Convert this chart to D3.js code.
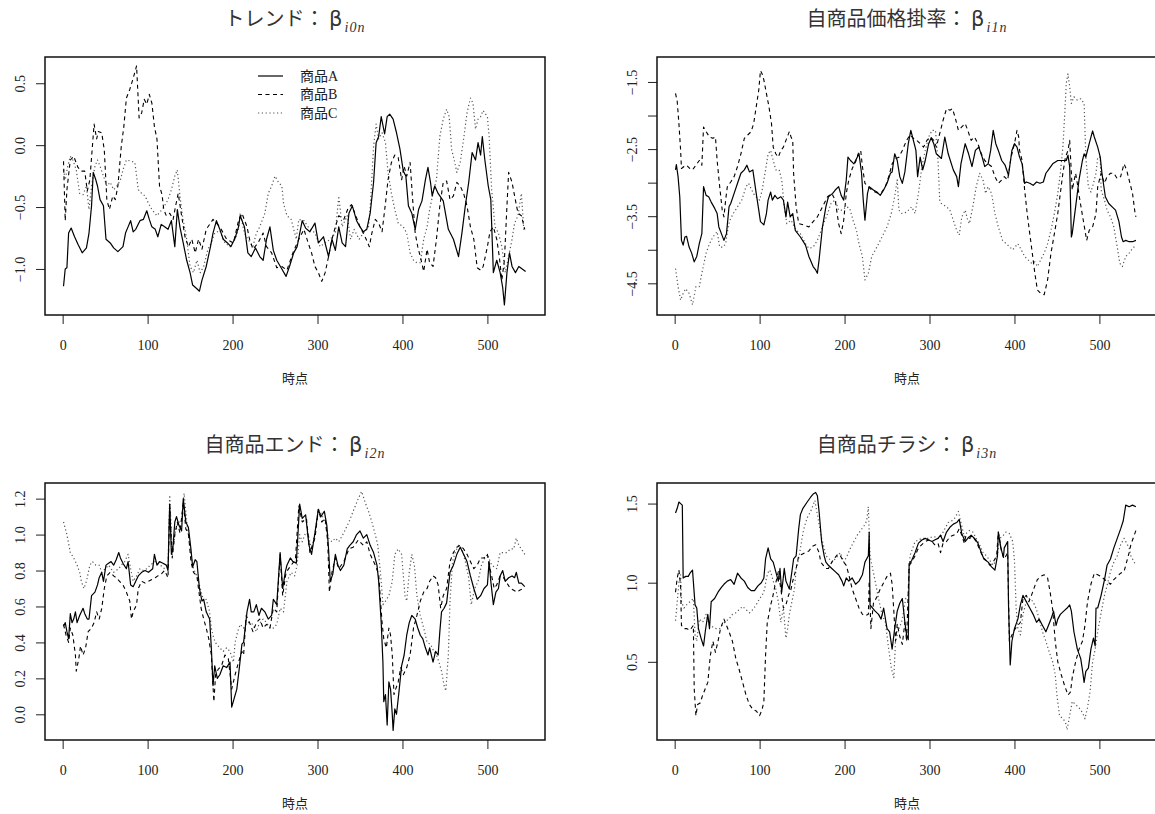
<!DOCTYPE html>
<html>
<head>
<meta charset="utf-8">
<script src="https://cdn.jsdelivr.net/npm/d3@7"></script>
<style>
  body { margin: 0; background: #fff; }
  .tick text { font-family: "Liberation Serif", serif; font-size: 14px; fill: #222; }
</style>
</head>
<body>
<svg id="chart" width="1155" height="814"></svg>
<script>
// series names and x ticks
const itemNames = ["商品A", "商品B", "商品C"];
const xTicks = [0, 100, 200, 300, 400, 500];

// トレンド β_i0n  ([時点, 値])
const trendA = [[1,-1.14],[3,-1.0],[5,-0.99],[7,-0.71],[10,-0.67],[14,-0.74],[18,-0.80],[23,-0.87],[28,-0.83],[31,-0.71],[34,-0.49],[36,-0.22],[39,-0.28],[41,-0.33],[44,-0.44],[48,-0.49],[51,-0.76],[56,-0.79],[60,-0.83],[65,-0.86],[71,-0.82],[74,-0.71],[77,-0.66],[80,-0.61],[83,-0.70],[86,-0.68],[91,-0.61],[95,-0.60],[99,-0.53],[102,-0.60],[105,-0.66],[109,-0.68],[112,-0.74],[116,-0.64],[120,-0.66],[124,-0.68],[128,-0.61],[132,-0.82],[135,-0.52],[138,-0.66],[141,-0.76],[146,-0.93],[150,-1.03],[153,-1.13],[158,-1.16],[161,-1.18],[164,-1.09],[169,-0.98],[174,-0.82],[177,-0.71],[181,-0.61],[185,-0.68],[189,-0.76],[194,-0.79],[198,-0.82],[203,-0.75],[207,-0.66],[209,-0.57],[214,-0.66],[218,-0.87],[222,-0.90],[227,-0.83],[232,-0.90],[236,-0.93],[240,-0.76],[244,-0.66],[248,-0.85],[252,-0.93],[258,-1.0],[263,-1.06],[267,-0.98],[272,-0.87],[276,-0.82],[282,-0.61],[286,-0.67],[291,-0.70],[297,-0.63],[301,-0.79],[307,-0.74],[313,-0.90],[317,-0.76],[321,-0.85],[325,-0.66],[329,-0.79],[333,-0.82],[337,-0.55],[341,-0.49],[346,-0.61],[350,-0.66],[354,-0.70],[358,-0.68],[362,-0.55],[366,-0.30],[369,0.02],[372,0.07],[375,0.23],[379,0.09],[382,0.23],[385,0.25],[389,0.21],[393,0.10],[397,-0.03],[401,-0.21],[404,-0.25],[407,-0.49],[411,-0.55],[415,-0.68],[419,-0.52],[423,-0.45],[427,-0.28],[430,-0.18],[433,-0.30],[435,-0.41],[438,-0.33],[442,-0.39],[448,-0.45],[454,-0.68],[460,-0.76],[466,-0.90],[470,-0.71],[474,-0.49],[478,-0.30],[482,-0.06],[486,-0.12],[489,0.02],[492,-0.08],[494,0.07],[497,-0.12],[501,-0.33],[504,-0.44],[507,-1.03],[511,-0.93],[515,-1.03],[518,-1.15],[520,-1.29],[523,-1.03],[526,-0.87],[529,-0.98],[533,-1.03],[537,-0.98],[541,-1.0],[545,-1.02]];
const trendB = [[1,-0.13],[3,-0.61],[5,-0.36],[9,-0.12],[13,-0.09],[18,-0.18],[22,-0.21],[26,-0.21],[29,-0.37],[32,-0.28],[35,-0.01],[37,0.17],[40,0.05],[42,0.11],[46,0.10],[49,-0.04],[52,-0.44],[55,-0.52],[59,-0.41],[62,-0.44],[65,-0.33],[69,-0.01],[72,0.15],[75,0.38],[79,0.45],[83,0.54],[87,0.64],[90,0.22],[93,0.26],[96,0.37],[99,0.33],[102,0.41],[105,0.34],[108,0.15],[111,0.05],[114,-0.33],[117,-0.40],[119,-0.52],[122,-0.57],[126,-0.55],[130,-0.60],[133,-0.49],[136,-0.39],[140,-0.57],[144,-0.74],[148,-0.82],[152,-0.76],[156,-0.87],[160,-0.76],[164,-0.84],[169,-0.68],[177,-0.60],[185,-0.66],[193,-0.76],[201,-0.79],[207,-0.61],[211,-0.55],[217,-0.66],[220,-0.76],[224,-0.84],[230,-0.79],[236,-0.71],[240,-0.82],[246,-0.87],[252,-0.99],[258,-0.98],[264,-1.01],[271,-0.87],[278,-0.76],[284,-0.68],[289,-0.79],[293,-0.87],[297,-0.98],[301,-1.03],[305,-1.10],[309,-1.03],[313,-0.90],[317,-0.76],[321,-0.66],[325,-0.57],[331,-0.60],[336,-0.51],[340,-0.48],[344,-0.55],[350,-0.66],[356,-0.74],[361,-0.82],[364,-0.71],[368,-0.60],[372,-0.63],[376,-0.70],[380,-0.47],[383,-0.28],[387,-0.14],[391,-0.08],[395,-0.10],[399,-0.28],[402,-0.17],[405,-0.25],[409,-0.14],[412,-0.44],[415,-0.71],[418,-0.82],[421,-0.90],[425,-1.02],[429,-0.84],[432,-0.95],[436,-0.98],[440,-0.76],[444,-0.49],[448,-0.30],[452,-0.29],[456,-0.44],[460,-0.41],[464,-0.30],[468,-0.33],[472,-0.39],[476,-0.49],[480,-0.66],[484,-0.76],[488,-0.99],[492,-1.01],[495,-0.98],[500,-0.82],[503,-0.70],[507,-0.66],[511,-0.76],[514,-0.90],[517,-1.09],[520,-0.93],[523,-0.49],[525,-0.22],[529,-0.30],[532,-0.41],[536,-0.55],[540,-0.57],[544,-0.68]];
const trendC = [[1,-0.20],[3,-0.28],[6,-0.17],[9,-0.09],[12,-0.12],[16,-0.20],[20,-0.39],[24,-0.40],[28,-0.33],[31,-0.52],[34,-0.33],[38,-0.17],[41,-0.12],[44,-0.17],[48,-0.25],[52,-0.33],[56,-0.30],[60,-0.36],[64,-0.33],[68,-0.28],[71,-0.20],[75,-0.12],[81,-0.13],[85,-0.14],[89,-0.36],[93,-0.39],[97,-0.41],[101,-0.47],[105,-0.52],[111,-0.57],[117,-0.52],[120,-0.49],[124,-0.44],[128,-0.36],[132,-0.25],[135,-0.20],[138,-0.41],[141,-0.57],[146,-0.76],[150,-0.98],[154,-1.03],[158,-0.93],[162,-1.03],[166,-0.98],[171,-0.84],[175,-0.79],[179,-0.71],[185,-0.69],[191,-0.79],[197,-0.82],[203,-0.76],[207,-0.68],[209,-0.55],[214,-0.71],[218,-0.76],[224,-0.82],[228,-0.71],[232,-0.66],[238,-0.55],[242,-0.39],[246,-0.33],[250,-0.25],[254,-0.30],[258,-0.33],[260,-0.47],[264,-0.57],[269,-0.60],[275,-0.76],[278,-0.60],[284,-0.61],[289,-0.66],[297,-0.71],[303,-0.82],[309,-0.79],[315,-0.76],[321,-0.71],[325,-0.41],[329,-0.66],[335,-0.57],[339,-0.76],[343,-0.68],[349,-0.76],[354,-0.71],[360,-0.66],[362,-0.51],[366,-0.01],[369,0.17],[372,0.05],[376,0.10],[380,0.02],[383,-0.22],[387,-0.39],[391,-0.52],[395,-0.63],[401,-0.66],[405,-0.71],[409,-0.87],[413,-0.93],[417,-0.95],[421,-0.95],[425,-0.76],[429,-0.66],[432,-0.52],[436,-0.39],[440,-0.28],[444,0.07],[448,0.21],[452,0.29],[455,0.23],[458,-0.04],[461,-0.12],[464,-0.22],[468,-0.14],[472,0.05],[476,0.26],[480,0.38],[483,0.34],[486,0.13],[489,0.21],[492,0.23],[495,0.28],[500,0.23],[502,0.07],[505,-0.36],[509,-0.66],[513,-0.71],[517,-0.82],[521,-1.03],[525,-0.90],[529,-0.76],[532,-0.63],[536,-0.57],[540,-0.39],[543,-0.70]];

// 自商品価格掛率 β_i1n
const priceA = [[1,-2.81],[2,-2.73],[4,-2.91],[6,-3.21],[8,-3.86],[10,-3.93],[12,-3.81],[14,-3.80],[17,-3.96],[20,-4.05],[23,-4.18],[26,-4.10],[29,-3.91],[32,-3.76],[34,-3.06],[37,-3.19],[40,-3.21],[43,-3.29],[47,-3.38],[50,-3.46],[52,-3.66],[55,-3.76],[58,-3.86],[61,-3.76],[64,-3.36],[66,-3.31],[70,-3.16],[74,-3.01],[78,-2.86],[82,-2.81],[85,-2.74],[88,-2.84],[92,-2.81],[96,-3.16],[99,-3.41],[101,-3.58],[105,-3.63],[108,-3.46],[110,-3.26],[113,-3.14],[115,-3.26],[118,-3.19],[121,-3.24],[125,-3.21],[128,-3.26],[131,-3.51],[133,-3.29],[136,-3.51],[139,-3.46],[142,-3.71],[148,-3.81],[154,-3.93],[158,-4.10],[163,-4.25],[166,-4.30],[168,-4.35],[170,-4.15],[174,-3.66],[178,-3.36],[181,-3.21],[186,-3.16],[189,-3.11],[193,-3.06],[196,-3.19],[199,-3.26],[202,-2.96],[204,-2.62],[207,-2.67],[211,-2.72],[213,-2.67],[217,-2.57],[220,-2.86],[222,-3.26],[224,-3.56],[227,-3.16],[229,-3.06],[234,-3.11],[238,-3.14],[242,-3.19],[246,-3.11],[250,-3.01],[254,-2.86],[256,-2.84],[259,-2.57],[262,-2.67],[265,-2.91],[268,-3.01],[271,-2.84],[275,-2.42],[278,-2.22],[281,-2.37],[284,-2.52],[286,-2.91],[289,-2.62],[292,-2.81],[295,-2.67],[299,-2.42],[302,-2.33],[305,-2.42],[308,-2.57],[314,-2.64],[318,-2.32],[322,-2.57],[328,-2.81],[332,-2.91],[334,-3.06],[337,-2.72],[342,-2.42],[346,-2.57],[350,-2.76],[354,-2.52],[358,-2.47],[362,-2.62],[365,-2.76],[369,-2.72],[372,-2.52],[375,-2.22],[378,-2.42],[381,-2.52],[385,-2.67],[389,-2.74],[393,-2.89],[397,-2.52],[400,-2.42],[403,-2.47],[406,-2.62],[409,-2.72],[412,-3.01],[414,-2.99],[418,-3.01],[422,-3.04],[426,-2.99],[430,-3.01],[434,-2.99],[437,-2.86],[441,-2.79],[445,-2.72],[451,-2.67],[457,-2.67],[461,-2.67],[463,-2.59],[465,-2.76],[467,-3.81],[468,-3.76],[472,-3.36],[476,-2.96],[480,-2.67],[482,-2.57],[484,-2.62],[488,-2.42],[492,-2.23],[494,-2.32],[498,-2.47],[501,-2.62],[503,-2.86],[507,-3.21],[511,-3.31],[515,-3.36],[519,-3.41],[523,-3.58],[526,-3.81],[528,-3.88],[531,-3.86],[535,-3.88],[539,-3.88],[543,-3.86]];
const priceB = [[1,-1.67],[3,-1.79],[5,-2.12],[7,-2.52],[8,-2.79],[11,-2.76],[14,-2.74],[18,-2.79],[21,-2.81],[25,-2.74],[29,-2.67],[32,-2.74],[34,-2.17],[37,-2.24],[41,-2.32],[45,-2.34],[48,-2.32],[50,-2.67],[53,-3.06],[56,-3.41],[58,-3.51],[60,-3.26],[62,-3.06],[66,-2.99],[70,-2.91],[74,-2.76],[78,-2.57],[82,-2.34],[86,-2.29],[90,-2.24],[93,-2.12],[96,-1.87],[99,-1.62],[101,-1.33],[103,-1.38],[105,-1.47],[108,-1.67],[111,-1.87],[114,-2.12],[116,-2.47],[119,-2.57],[122,-2.62],[125,-2.52],[128,-2.47],[131,-2.37],[135,-2.24],[137,-2.32],[139,-2.37],[140,-2.86],[143,-3.36],[146,-3.61],[152,-3.63],[158,-3.66],[163,-3.58],[168,-3.51],[172,-3.41],[176,-3.31],[180,-3.21],[185,-3.16],[189,-3.26],[193,-3.61],[196,-3.76],[199,-3.56],[202,-3.16],[205,-2.96],[209,-2.79],[213,-2.69],[216,-2.57],[219,-2.52],[221,-2.76],[224,-3.01],[228,-3.06],[232,-3.11],[236,-3.14],[240,-3.16],[244,-3.14],[248,-3.06],[252,-2.91],[256,-2.72],[260,-2.64],[264,-2.62],[268,-2.52],[273,-2.37],[277,-2.29],[281,-2.34],[285,-2.37],[289,-2.42],[293,-2.47],[297,-2.37],[301,-2.32],[305,-2.37],[308,-2.47],[312,-2.27],[316,-2.07],[320,-1.90],[324,-1.92],[327,-1.90],[330,-2.02],[334,-2.22],[338,-2.17],[342,-2.12],[345,-2.22],[349,-2.37],[353,-2.32],[357,-2.42],[361,-2.57],[365,-2.67],[369,-2.72],[373,-2.76],[377,-2.91],[381,-3.01],[385,-2.96],[388,-2.91],[392,-2.96],[396,-2.62],[400,-2.42],[403,-2.22],[405,-2.32],[406,-2.52],[409,-2.67],[412,-3.11],[415,-3.46],[418,-3.76],[421,-4.05],[424,-4.35],[427,-4.60],[431,-4.65],[435,-4.67],[439,-4.45],[443,-4.05],[447,-3.76],[451,-3.46],[455,-3.06],[457,-2.86],[460,-2.62],[463,-2.52],[465,-2.37],[467,-2.86],[468,-3.11],[472,-2.86],[474,-3.01],[477,-3.26],[481,-3.56],[485,-3.86],[488,-3.71],[492,-3.66],[496,-3.46],[498,-3.06],[502,-2.86],[506,-3.01],[509,-2.91],[513,-2.86],[517,-2.86],[521,-2.94],[525,-2.91],[529,-2.72],[532,-2.81],[535,-2.96],[539,-3.16],[542,-3.46],[543,-3.51]];
const priceC = [[1,-4.28],[4,-4.55],[7,-4.75],[10,-4.65],[13,-4.58],[17,-4.65],[21,-4.82],[25,-4.55],[29,-4.55],[32,-4.35],[37,-4.05],[41,-3.91],[45,-3.81],[50,-3.73],[53,-3.96],[57,-3.96],[60,-3.91],[63,-3.66],[65,-3.56],[69,-3.46],[74,-3.36],[79,-3.26],[84,-3.06],[87,-3.01],[90,-3.09],[94,-3.19],[100,-3.26],[103,-3.11],[107,-2.81],[110,-2.57],[113,-2.52],[116,-2.67],[119,-2.81],[123,-2.81],[126,-2.96],[129,-3.36],[132,-3.61],[137,-3.56],[143,-3.71],[148,-3.76],[154,-3.91],[158,-3.98],[163,-3.96],[168,-3.86],[174,-3.66],[180,-3.46],[184,-3.31],[189,-3.26],[193,-3.41],[197,-3.41],[202,-3.36],[206,-3.38],[210,-3.56],[214,-3.71],[217,-3.91],[221,-4.10],[224,-4.45],[228,-4.35],[232,-4.10],[238,-3.96],[244,-3.81],[250,-3.66],[255,-3.46],[259,-3.21],[262,-2.96],[264,-3.41],[267,-3.46],[273,-3.44],[279,-3.36],[283,-3.46],[287,-3.16],[291,-2.76],[295,-2.52],[299,-2.32],[303,-2.22],[307,-2.22],[310,-2.67],[312,-3.26],[314,-3.31],[320,-3.36],[324,-3.41],[328,-3.56],[332,-3.71],[335,-3.78],[338,-3.51],[342,-3.41],[345,-3.56],[347,-3.61],[351,-3.36],[355,-3.06],[359,-2.86],[363,-2.96],[366,-3.16],[369,-3.06],[373,-3.16],[377,-3.46],[381,-3.66],[386,-3.86],[392,-3.93],[398,-4.00],[404,-3.91],[408,-4.00],[412,-4.10],[416,-4.15],[420,-4.20],[424,-4.18],[427,-4.25],[431,-4.15],[435,-4.05],[439,-3.91],[443,-3.71],[447,-3.46],[451,-3.16],[454,-2.86],[457,-2.47],[459,-2.02],[461,-1.52],[463,-1.38],[465,-1.57],[467,-1.82],[470,-1.72],[474,-1.77],[478,-1.75],[482,-1.82],[484,-2.62],[487,-3.06],[490,-3.14],[493,-3.01],[496,-2.86],[498,-2.62],[501,-2.62],[502,-3.11],[506,-3.26],[509,-3.41],[513,-3.51],[517,-3.66],[521,-3.96],[524,-4.20],[527,-4.25],[531,-4.10],[535,-4.05],[539,-3.98],[543,-3.93]];

// 自商品エンド β_i2n
const endA = [[1,0.49],[3,0.51],[5,0.46],[7,0.42],[9,0.56],[11,0.51],[13,0.53],[15,0.57],[17,0.51],[20,0.55],[24,0.59],[26,0.56],[29,0.53],[31,0.53],[34,0.66],[38,0.68],[41,0.72],[43,0.76],[46,0.79],[48,0.74],[51,0.83],[54,0.84],[57,0.85],[60,0.83],[63,0.86],[66,0.90],[68,0.87],[71,0.84],[75,0.81],[77,0.85],[80,0.72],[83,0.71],[86,0.74],[89,0.77],[93,0.79],[97,0.80],[101,0.79],[106,0.81],[108,0.89],[111,0.83],[114,0.85],[118,0.84],[122,0.83],[124,0.80],[126,1.17],[128,0.89],[130,0.94],[132,1.07],[134,1.10],[137,1.05],[140,1.02],[142,1.20],[145,1.07],[148,1.04],[151,0.92],[153,0.82],[156,0.86],[158,0.85],[161,0.70],[164,0.63],[166,0.64],[169,0.57],[173,0.53],[175,0.37],[177,0.16],[179,0.27],[182,0.20],[185,0.22],[189,0.27],[193,0.26],[197,0.29],[199,0.04],[202,0.09],[205,0.14],[208,0.26],[211,0.39],[213,0.40],[217,0.57],[220,0.64],[222,0.57],[225,0.57],[228,0.61],[231,0.55],[234,0.59],[238,0.57],[242,0.53],[246,0.55],[248,0.64],[252,0.61],[256,0.90],[259,0.70],[262,0.79],[264,0.83],[268,0.87],[271,0.85],[275,0.84],[279,1.17],[282,1.09],[286,1.11],[290,0.94],[293,0.89],[297,1.01],[301,1.14],[304,1.10],[308,1.13],[311,1.05],[313,0.92],[315,0.74],[318,0.78],[321,0.89],[324,0.83],[327,0.80],[331,0.83],[335,0.92],[338,0.94],[342,0.96],[346,1.00],[350,1.02],[354,0.98],[358,1.00],[362,0.94],[366,0.90],[370,0.83],[372,0.74],[375,0.51],[377,0.29],[378,0.07],[380,0.11],[382,-0.06],[384,0.18],[386,0.14],[388,0.00],[389,-0.09],[391,0.03],[393,0.00],[396,0.13],[399,0.27],[402,0.33],[405,0.44],[408,0.51],[411,0.55],[415,0.53],[418,0.48],[421,0.44],[424,0.42],[427,0.37],[430,0.33],[432,0.37],[436,0.29],[439,0.35],[442,0.33],[444,0.46],[446,0.57],[449,0.59],[452,0.62],[456,0.79],[460,0.83],[464,0.89],[468,0.93],[472,0.89],[476,0.85],[480,0.77],[484,0.70],[488,0.64],[492,0.66],[496,0.70],[500,0.72],[502,0.85],[504,0.74],[507,0.61],[510,0.68],[513,0.70],[515,0.77],[518,0.80],[521,0.74],[525,0.76],[529,0.77],[532,0.76],[534,0.79],[537,0.73],[540,0.73],[544,0.71]];
const endB = [[1,0.50],[4,0.44],[7,0.40],[9,0.48],[12,0.44],[15,0.33],[16,0.24],[19,0.31],[21,0.38],[24,0.33],[27,0.37],[30,0.46],[34,0.48],[37,0.51],[40,0.57],[43,0.53],[46,0.59],[49,0.70],[52,0.77],[56,0.79],[60,0.77],[63,0.76],[67,0.74],[71,0.72],[75,0.68],[79,0.63],[81,0.53],[83,0.57],[87,0.61],[89,0.70],[93,0.74],[97,0.73],[101,0.74],[105,0.75],[109,0.76],[112,0.77],[116,0.78],[120,0.80],[124,0.76],[126,1.16],[129,0.87],[132,1.00],[135,1.07],[138,1.01],[142,1.18],[145,1.03],[148,1.01],[151,0.85],[154,0.79],[158,0.77],[161,0.66],[163,0.59],[166,0.53],[169,0.48],[172,0.42],[175,0.33],[178,0.07],[180,0.22],[183,0.25],[187,0.27],[191,0.33],[195,0.31],[199,0.14],[203,0.22],[207,0.29],[211,0.35],[213,0.33],[216,0.55],[220,0.51],[224,0.46],[228,0.51],[232,0.53],[236,0.48],[240,0.50],[244,0.48],[248,0.59],[252,0.57],[256,0.89],[259,0.66],[263,0.79],[269,0.83],[274,0.86],[278,1.16],[282,1.07],[287,1.09],[291,0.90],[297,0.98],[301,1.14],[305,1.07],[309,1.09],[312,0.96],[314,0.68],[317,0.79],[321,0.87],[325,0.81],[331,0.85],[337,0.92],[342,0.93],[348,0.97],[354,0.94],[358,0.96],[362,0.89],[368,0.83],[372,0.78],[376,0.51],[378,0.42],[381,0.37],[384,0.48],[386,0.44],[388,0.33],[390,0.11],[392,0.14],[395,0.18],[398,0.26],[401,0.22],[405,0.26],[409,0.33],[413,0.48],[417,0.55],[421,0.63],[425,0.68],[429,0.70],[432,0.74],[436,0.77],[439,0.76],[442,0.72],[445,0.59],[448,0.66],[452,0.70],[456,0.85],[460,0.90],[464,0.93],[468,0.94],[472,0.92],[476,0.89],[480,0.85],[484,0.81],[488,0.83],[492,0.87],[496,0.87],[500,0.89],[502,0.83],[505,0.77],[508,0.70],[511,0.72],[515,0.77],[519,0.76],[523,0.73],[527,0.70],[531,0.69],[535,0.68],[538,0.69],[542,0.70]];
const endC = [[1,1.07],[5,1.00],[9,0.90],[13,0.87],[17,0.83],[20,0.79],[22,0.74],[25,0.70],[28,0.74],[32,0.83],[35,0.85],[39,0.83],[43,0.83],[46,0.79],[50,0.81],[54,0.83],[60,0.79],[66,0.81],[69,0.83],[73,0.85],[77,0.89],[80,0.81],[83,0.74],[87,0.77],[91,0.81],[95,0.80],[99,0.81],[103,0.83],[109,0.85],[115,0.83],[120,0.81],[124,0.81],[126,1.22],[129,0.89],[132,1.00],[136,1.07],[140,1.07],[143,1.23],[146,1.07],[151,0.89],[154,0.81],[158,0.77],[162,0.70],[166,0.63],[169,0.64],[173,0.57],[175,0.48],[178,0.42],[181,0.39],[185,0.37],[189,0.35],[193,0.37],[197,0.35],[201,0.29],[203,0.40],[206,0.46],[209,0.50],[213,0.48],[217,0.51],[220,0.51],[224,0.50],[228,0.46],[231,0.50],[236,0.53],[240,0.51],[244,0.48],[248,0.48],[252,0.50],[256,0.59],[260,0.57],[264,0.74],[269,0.79],[273,0.77],[276,0.83],[279,1.00],[282,0.96],[286,1.01],[289,1.00],[293,0.92],[297,1.01],[301,1.14],[305,1.11],[309,1.07],[313,0.98],[317,0.96],[321,0.98],[325,0.96],[331,1.01],[337,1.07],[342,1.13],[348,1.20],[352,1.24],[356,1.18],[360,1.13],[364,1.07],[368,1.00],[371,0.94],[375,0.74],[377,0.61],[380,0.63],[384,0.66],[388,0.74],[391,0.89],[395,0.92],[399,0.89],[403,0.66],[405,0.63],[408,0.79],[411,0.89],[414,0.83],[417,0.66],[421,0.55],[425,0.48],[429,0.40],[433,0.39],[437,0.35],[440,0.33],[443,0.29],[446,0.24],[449,0.16],[451,0.13],[454,0.33],[456,0.63],[459,0.85],[462,0.90],[466,0.94],[470,0.92],[474,0.85],[478,0.76],[481,0.61],[485,0.70],[489,0.74],[493,0.83],[497,0.87],[500,0.89],[505,0.83],[511,0.81],[515,0.90],[519,0.90],[523,0.90],[527,0.92],[531,0.92],[534,0.98],[537,0.94],[540,0.92],[544,0.89]];

// 自商品チラシ β_i3n
const flyerA = [[1,1.44],[3,1.47],[5,1.51],[7,1.50],[9,1.49],[10,1.03],[13,1.04],[16,1.04],[18,1.06],[21,1.08],[24,0.86],[26,0.84],[28,0.71],[31,0.65],[34,0.60],[36,0.69],[39,0.80],[41,0.71],[43,0.88],[47,0.90],[51,0.94],[55,0.97],[58,0.99],[62,1.01],[66,1.02],[70,0.99],[74,1.06],[78,1.03],[82,1.01],[86,0.97],[90,0.95],[94,0.95],[98,0.98],[102,1.00],[105,1.03],[107,1.15],[110,1.22],[113,1.15],[116,1.13],[119,1.07],[122,1.01],[124,1.09],[126,0.94],[129,1.09],[131,1.01],[135,0.96],[138,1.07],[140,1.15],[143,1.17],[146,1.34],[148,1.43],[151,1.47],[156,1.51],[160,1.54],[163,1.56],[166,1.57],[168,1.55],[170,1.45],[173,1.26],[176,1.17],[178,1.13],[181,1.11],[185,1.09],[189,1.07],[193,1.05],[197,1.01],[199,0.98],[202,1.03],[205,1.01],[209,1.03],[213,0.99],[217,1.01],[221,1.05],[224,1.13],[228,1.17],[229,1.32],[230,0.86],[233,0.84],[236,0.82],[240,0.80],[243,0.77],[246,0.84],[250,0.71],[253,0.69],[256,0.58],[259,0.71],[262,0.82],[265,0.87],[268,0.90],[271,0.75],[273,0.67],[275,0.64],[276,1.12],[279,1.14],[283,1.19],[287,1.25],[291,1.27],[295,1.28],[299,1.27],[303,1.26],[306,1.27],[310,1.28],[313,1.30],[316,1.26],[320,1.32],[324,1.35],[328,1.37],[332,1.38],[335,1.40],[338,1.31],[342,1.26],[345,1.28],[349,1.30],[353,1.28],[357,1.25],[361,1.19],[364,1.15],[369,1.13],[373,1.10],[377,1.08],[380,1.17],[381,1.32],[384,1.22],[387,1.16],[388,1.22],[392,1.26],[393,0.86],[395,0.48],[397,0.63],[400,0.71],[404,0.77],[407,0.86],[410,0.92],[414,0.88],[418,0.84],[422,0.80],[426,0.75],[429,0.77],[433,0.73],[437,0.69],[440,0.73],[443,0.77],[446,0.82],[449,0.73],[451,0.77],[454,0.80],[458,0.82],[462,0.84],[465,0.86],[467,0.82],[470,0.69],[474,0.58],[478,0.52],[480,0.45],[482,0.37],[484,0.44],[487,0.46],[490,0.58],[493,0.65],[495,0.60],[496,0.84],[498,0.84],[502,0.92],[506,1.02],[509,1.11],[513,1.15],[517,1.22],[521,1.28],[525,1.34],[528,1.39],[531,1.49],[535,1.48],[539,1.49],[543,1.48]];
const flyerB = [[1,0.94],[3,1.03],[5,1.08],[7,0.98],[8,0.73],[11,0.71],[14,0.71],[18,0.70],[22,0.73],[23,0.33],[25,0.16],[27,0.23],[30,0.24],[33,0.29],[36,0.33],[39,0.37],[42,0.54],[45,0.63],[48,0.56],[51,0.63],[54,0.71],[58,0.77],[61,0.73],[64,0.69],[68,0.63],[72,0.52],[76,0.45],[80,0.37],[84,0.29],[88,0.23],[92,0.20],[96,0.19],[100,0.16],[103,0.20],[105,0.25],[107,0.54],[109,0.75],[111,0.80],[113,0.86],[115,0.90],[118,0.98],[120,1.02],[122,1.07],[125,0.96],[128,0.84],[131,0.86],[134,0.92],[137,0.96],[139,1.01],[143,1.09],[146,1.17],[150,1.18],[154,1.19],[158,1.20],[162,1.23],[166,1.24],[170,1.19],[172,1.13],[175,1.11],[178,1.09],[181,1.09],[185,1.13],[189,1.16],[192,1.18],[195,1.17],[199,1.13],[202,1.11],[205,1.05],[209,0.96],[213,0.90],[217,0.84],[221,0.80],[224,0.79],[228,0.80],[229,1.01],[231,0.71],[234,0.87],[238,0.91],[242,0.96],[246,1.00],[250,1.04],[254,1.06],[256,0.99],[258,0.82],[260,0.63],[262,0.74],[265,0.66],[268,0.61],[271,0.75],[273,0.63],[276,1.11],[279,1.13],[283,1.17],[287,1.22],[291,1.24],[295,1.26],[299,1.27],[303,1.26],[306,1.24],[310,1.25],[313,1.19],[316,1.25],[320,1.26],[324,1.29],[328,1.30],[332,1.31],[335,1.34],[338,1.30],[341,1.25],[343,1.30],[347,1.28],[351,1.29],[355,1.26],[359,1.21],[363,1.16],[367,1.14],[371,1.11],[375,1.13],[379,1.17],[381,1.32],[385,1.19],[388,1.15],[392,1.19],[394,0.63],[397,0.67],[401,0.71],[404,0.73],[407,0.75],[410,0.90],[414,0.92],[417,0.88],[420,0.92],[424,0.98],[427,1.02],[431,1.04],[435,1.05],[439,1.03],[442,0.94],[445,0.83],[448,0.63],[451,0.50],[455,0.42],[459,0.35],[463,0.29],[466,0.31],[468,0.40],[472,0.50],[476,0.58],[480,0.63],[483,0.73],[486,0.88],[490,0.99],[494,1.06],[498,1.05],[502,1.04],[506,1.02],[509,1.01],[513,0.99],[517,1.02],[521,1.04],[525,1.06],[529,1.07],[532,1.13],[535,1.19],[537,1.24],[541,1.30],[543,1.33]];
const flyerC = [[1,0.76],[3,0.88],[5,1.00],[7,1.05],[8,0.88],[11,0.84],[14,0.86],[18,0.88],[22,0.90],[24,0.67],[26,0.63],[29,0.77],[33,0.75],[37,0.80],[41,0.73],[45,0.72],[49,0.71],[53,0.71],[57,0.74],[61,0.76],[64,0.77],[68,0.80],[72,0.81],[76,0.83],[80,0.85],[84,0.83],[88,0.81],[92,0.83],[96,0.86],[100,0.90],[103,0.92],[106,0.96],[108,1.03],[111,1.08],[113,1.07],[116,1.01],[119,0.96],[122,0.88],[125,0.75],[128,0.84],[131,0.65],[133,0.71],[135,0.80],[138,0.88],[141,0.96],[143,1.09],[146,1.15],[150,1.28],[152,1.34],[156,1.41],[160,1.45],[163,1.49],[165,1.52],[168,1.43],[171,1.34],[173,1.28],[176,1.22],[178,1.17],[182,1.15],[185,1.13],[189,1.15],[192,1.17],[195,1.19],[199,1.13],[203,1.17],[207,1.22],[211,1.26],[215,1.30],[219,1.33],[223,1.36],[226,1.39],[228,1.48],[230,1.17],[233,1.09],[236,1.01],[240,0.90],[244,0.80],[248,0.75],[252,0.58],[255,0.46],[258,0.40],[260,0.63],[264,0.71],[267,0.75],[269,0.80],[272,0.90],[275,0.92],[277,1.17],[279,1.20],[283,1.26],[287,1.27],[291,1.28],[295,1.28],[299,1.28],[303,1.29],[306,1.29],[310,1.28],[314,1.30],[318,1.34],[322,1.38],[326,1.39],[330,1.41],[334,1.45],[337,1.38],[341,1.29],[343,1.31],[347,1.33],[351,1.32],[355,1.28],[359,1.24],[363,1.19],[367,1.17],[371,1.14],[375,1.11],[379,1.15],[383,1.28],[387,1.30],[390,1.32],[394,1.31],[398,1.26],[400,1.14],[402,0.84],[404,0.71],[407,0.67],[410,0.80],[414,0.88],[418,0.90],[422,0.88],[426,0.83],[429,0.77],[433,0.69],[437,0.63],[441,0.56],[445,0.50],[448,0.42],[450,0.29],[453,0.16],[457,0.14],[460,0.12],[462,0.07],[465,0.16],[468,0.25],[472,0.23],[476,0.21],[480,0.18],[483,0.14],[486,0.21],[489,0.31],[492,0.50],[495,0.58],[498,0.69],[502,0.81],[506,0.92],[509,0.98],[513,1.07],[517,1.13],[521,1.17],[525,1.24],[529,1.28],[532,1.25],[535,1.22],[537,1.17],[541,1.13],[543,1.11]];

// y ticks
const trendTicks = [-1.0, -0.5, 0.0, 0.5];
const priceTicks = [-4.5, -4.0, -3.5, -3.0, -2.5, -2.0, -1.5];
const priceLabels = [-4.5, -3.5, -2.5, -1.5];
const endTicks = [0.0, 0.2, 0.4, 0.6, 0.8, 1.0, 1.2];
const flyerTicks = [0.5, 1.0, 1.5];

const W = 500;
const xDomain = [-20.8, 567.8];
const lineStyles = [
  { stroke: "#000", dash: null, width: 1.2 },
  { stroke: "#000", dash: "4,3.5", width: 1.1 },
  { stroke: "#555", dash: "1.2,2.6", width: 1.2 }
];

const panels = [
  { title: "トレンド： ", sub: "i0n", series: [trendA, trendB, trendC], yDom: [-1.372, 0.712], ticks: trendTicks, labels: trendTicks, left: 45, top: 57, h: 258, legend: true },
  { title: "自商品価格掛率： ", sub: "i1n", series: [priceA, priceB, priceC], yDom: [-4.972, -1.128], ticks: priceTicks, labels: priceLabels, left: 657, top: 57, h: 258 },
  { title: "自商品エンド： ", sub: "i2n", series: [endA, endB, endC], yDom: [-0.143, 1.287], ticks: endTicks, labels: endTicks, left: 45, top: 483, h: 257 },
  { title: "自商品チラシ： ", sub: "i3n", series: [flyerA, flyerB, flyerC], yDom: [0.006, 1.630], ticks: flyerTicks, labels: flyerTicks, left: 657, top: 483, h: 257 }
];

const svg = d3.select("#chart");
const fmt = d3.format(".1f");

panels.forEach(p => {
  const g = svg.append("g").attr("transform", `translate(${p.left},${p.top})`);
  const x = d3.scaleLinear().domain(xDomain).range([0, W]);
  const y = d3.scaleLinear().domain(p.yDom).range([p.h, 0]);

  // title
  const t = svg.append("text")
    .attr("x", p.left + W / 2)
    .attr("y", p.top - 31)
    .attr("text-anchor", "middle")
    .style("font-family", "'Noto Sans CJK JP', sans-serif")
    .style("font-size", "20px")
    .attr("fill", "#333");
  t.append("tspan").text(p.title);
  t.append("tspan").style("font-family", "'DejaVu Sans', sans-serif").style("font-size", "21px").text("β");
  t.append("tspan").attr("dy", 6).attr("dx", 2)
    .style("font-family", "'Liberation Serif', serif").style("font-style", "italic").style("font-size", "14px")
    .style("letter-spacing", "1px")
    .text(p.sub);

  // x axis
  const xa = g.append("g").attr("transform", `translate(0,${p.h})`)
    .call(d3.axisBottom(x).tickValues(xTicks).tickSizeInner(9).tickSizeOuter(0).tickFormat(d3.format("d")));
  xa.select(".domain").remove();
  xa.selectAll(".tick line").attr("stroke", "#222");
  xa.selectAll(".tick text").attr("y", 30).attr("dy", "0.35em");

  // y axis
  const ya = g.append("g")
    .call(d3.axisLeft(y).tickValues(p.ticks).tickSizeInner(9).tickSizeOuter(0)
      .tickFormat(d => p.labels.includes(d) ? fmt(d) : ""));
  ya.select(".domain").remove();
  ya.selectAll(".tick line").attr("stroke", "#222");
  ya.selectAll(".tick text")
    .attr("transform", "rotate(-90)")
    .attr("x", 0).attr("y", -25).attr("dy", "0.35em")
    .attr("text-anchor", "middle");

  // x label
  g.append("text")
    .attr("x", W / 2).attr("y", p.h + 63).attr("dy", "0.35em")
    .attr("text-anchor", "middle")
    .style("font-family", "'Noto Sans CJK JP', sans-serif").style("font-size", "13px")
    .attr("fill", "#222")
    .text("時点");

  // lines
  const clipId = "clip" + p.left + "_" + p.top;
  g.append("clipPath").attr("id", clipId).append("rect").attr("width", W).attr("height", p.h);
  const line = d3.line().x(d => x(d[0])).y(d => y(d[1]));
  const plot = g.append("g").attr("clip-path", `url(#${clipId})`);
  [2, 1, 0].forEach(i => {
    const s = lineStyles[i];
    plot.append("path")
      .datum(p.series[i])
      .attr("d", line)
      .attr("fill", "none")
      .attr("stroke", s.stroke)
      .attr("stroke-width", s.width)
      .attr("stroke-dasharray", s.dash)
      .attr("stroke-linejoin", "round");
  });

  // box
  g.append("rect").attr("width", W).attr("height", p.h)
    .attr("fill", "none").attr("stroke", "#111").attr("stroke-width", 1.5);

  // legend
  if (p.legend) {
    const lg = g.append("g").attr("transform", "translate(213,19)");
    itemNames.forEach((name, i) => {
      const s = lineStyles[i];
      lg.append("line")
        .attr("x1", 0).attr("x2", 25).attr("y1", i * 18.5).attr("y2", i * 18.5)
        .attr("stroke", s.stroke).attr("stroke-width", s.width)
        .attr("stroke-dasharray", s.dash);
      lg.append("text")
        .attr("x", 42).attr("y", i * 18.5).attr("dy", "0.35em")
        .style("font-family", "'Liberation Serif', 'Noto Sans CJK JP', serif")
        .style("font-size", "14px")
        .attr("fill", "#222")
        .text(name);
    });
  }
});
</script>
</body>
</html>
